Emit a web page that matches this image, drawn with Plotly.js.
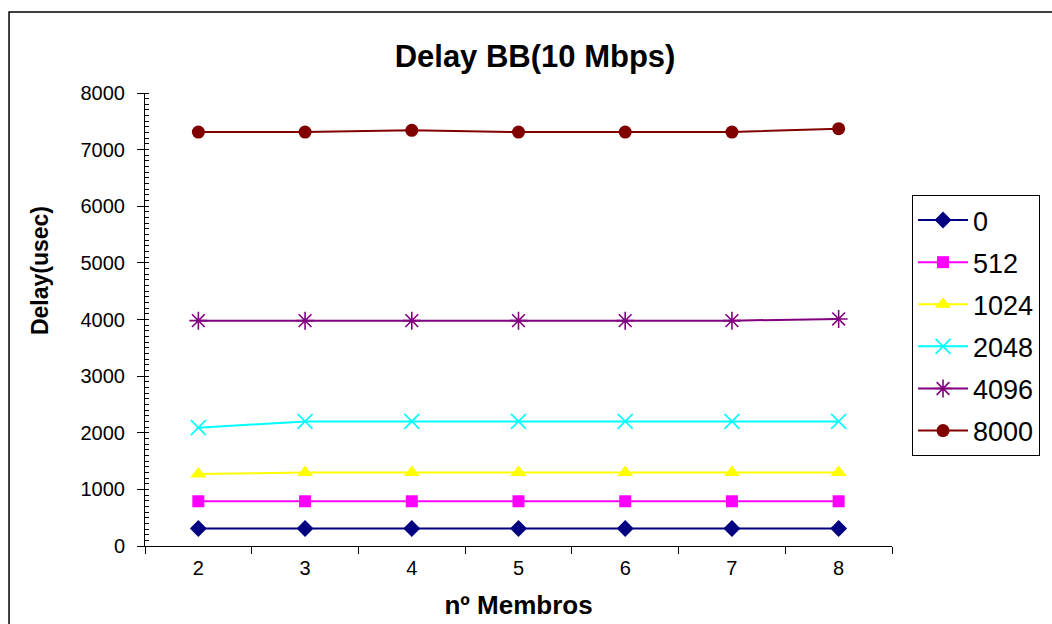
<!DOCTYPE html>
<html>
<head>
<meta charset="utf-8">
<script src="https://cdn.plot.ly/plotly-3.0.1.min.js"></script>
<style>
  html, body { margin: 0; padding: 0; background: #fff; }
  #chart { width: 1052px; height: 624px; }
</style>
</head>
<body>
<div id="chart"></div>
<script>
// Group size (number of members) on the x axis
const membros = ['2', '3', '4', '5', '6', '7', '8'];

// Delay in microseconds per packet size
const packetSizes = ['0', '512', '1024', '2048', '4096', '8000'];
const delay0    = [310, 310, 310, 310, 310, 310, 310];
const delay512  = [790, 790, 790, 790, 790, 790, 790];
const delay1024 = [1270, 1300, 1300, 1300, 1300, 1300, 1300];
const delay2048 = [2090, 2200, 2200, 2200, 2200, 2200, 2200];
const delay4096 = [3980, 3980, 3980, 3980, 3980, 3980, 4010];
const delay8000 = [7310, 7310, 7340, 7310, 7310, 7310, 7370];

const seriesValues = [delay0, delay512, delay1024, delay2048, delay4096, delay8000];
const colors  = ['#000080', '#FF00FF', '#FFFF00', '#00FFFF', '#800080', '#800000'];
const symbols = ['diamond', 'square', 'triangle-up', 'x-thin-open', 'asterisk-open', 'circle'];
const sizes   = [13, 12, 14, 15, 15, 13];

const FONT = 'Liberation Sans, Arial, sans-serif';

const traces = packetSizes.map((name, i) => ({
  type: 'scatter',
  mode: 'lines+markers',
  name: name,
  legendgroup: 'g' + i,
  x: membros,
  y: seriesValues[i],
  line: { color: colors[i], width: 2 },
  marker: {
    symbol: symbols[i],
    size: sizes[i],
    color: colors[i],
    line: { color: colors[i], width: (i === 3 || i === 4) ? 1.6 : 0 }
  }
}));

const layout = {
  width: 1052,
  height: 624,
  margin: { l: 145, r: 160, t: 93, b: 78 },
  paper_bgcolor: '#ffffff',
  plot_bgcolor: '#ffffff',
  font: { family: FONT, color: '#000000', size: 20 },
  title: {
    text: '<b>Delay BB(10 Mbps)</b>',
    font: { family: FONT, size: 31, color: '#000000' },
    x: 0.5086, xanchor: 'center',
    y: 0.9103, yanchor: 'middle'
  },
  showlegend: true,
  legend: {
    x: 1.0268, xanchor: 'left',
    y: 0.7748, yanchor: 'top',
    bordercolor: '#000000',
    borderwidth: 1,
    bgcolor: '#ffffff',
    font: { family: FONT, size: 27, color: '#000000' },
    tracegroupgap: 4,
    traceorder: 'grouped',
    itemwidth: 50
  },
  xaxis: {
    type: 'category',
    range: [-0.5, 6.5],
    tickson: 'boundaries',
    showgrid: false,
    zeroline: false,
    showline: true,
    linecolor: '#000000',
    linewidth: 1,
    ticks: 'outside',
    ticklen: 7,
    tickcolor: '#000000',
    tickfont: { family: FONT, size: 20 },
    ticklabelstandoff: 4,
    title: {
      text: '<b>nº Membros</b>',
      font: { family: FONT, size: 26 },
      standoff: 17
    }
  },
  yaxis: {
    range: [0, 8000],
    dtick: 1000,
    showgrid: false,
    zeroline: false,
    showline: true,
    linecolor: '#000000',
    linewidth: 1,
    ticks: 'outside',
    ticklen: 7,
    tickcolor: '#000000',
    tickfont: { family: FONT, size: 20 },
    ticklabelstandoff: 8,
    minor: { dtick: 100, ticks: 'inside', ticklen: 4, tickcolor: '#000000', showgrid: false }
  },
  annotations: [{
    // y-axis title, placed a little above the plot's vertical centre
    text: '<b>Delay(usec)</b>',
    xref: 'paper', yref: 'paper',
    x: -0.1406, y: 0.609,
    xanchor: 'center', yanchor: 'middle',
    textangle: -90,
    showarrow: false,
    font: { family: FONT, size: 23, color: '#000000' }
  }],
  shapes: [{
    type: 'rect', xref: 'paper', yref: 'paper',
    x0: -0.182, x1: 1.23, y0: -0.2, y1: 1.1788,
    line: { color: '#000000', width: 1.5 },
    fillcolor: 'rgba(0,0,0,0)', layer: 'below'
  }]
};

Plotly.newPlot('chart', traces, layout, { staticPlot: true, displayModeBar: false });
</script>
</body>
</html>
